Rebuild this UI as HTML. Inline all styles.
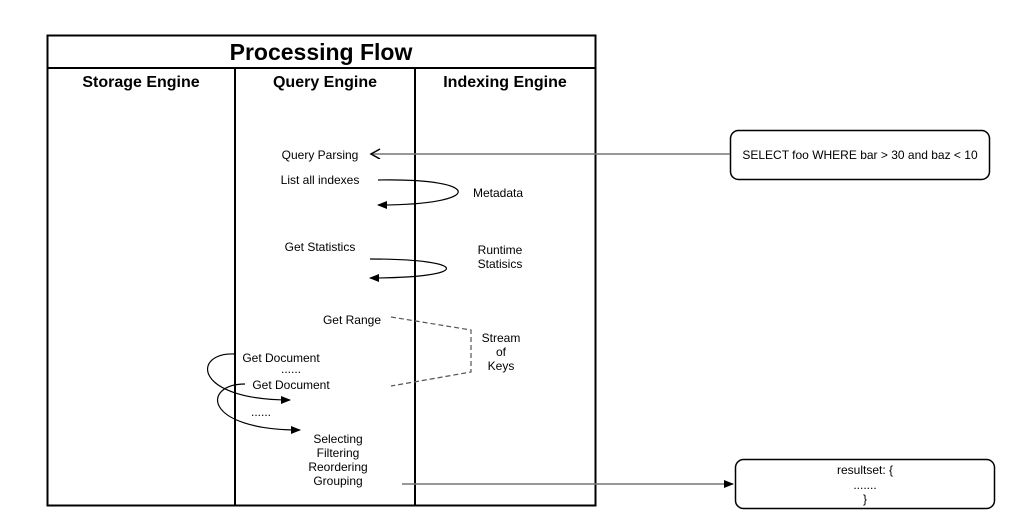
<!DOCTYPE html>
<html><head><style>body{margin:0;background:#fff}svg{display:block}text{font-family:"Liberation Sans",Arial,sans-serif}</style></head><body>
<svg width="1015" height="529" viewBox="0 0 1015 529">
<defs>
<marker id="f" markerWidth="10" markerHeight="8" refX="9" refY="4" orient="auto" markerUnits="userSpaceOnUse"><path d="M0,0 L10,4 L0,8 Z" fill="#000"/></marker>
<marker id="o" markerWidth="12" markerHeight="12" refX="10" refY="5" orient="auto" markerUnits="userSpaceOnUse"><path d="M1,0 L10,5 L1,10" fill="none" stroke="#000" stroke-width="1.5"/></marker>
</defs>
<rect x="47.5" y="35.5" width="548" height="470" fill="none" stroke="#000" stroke-width="2"/>
<line x1="47" y1="68" x2="596" y2="68" stroke="#000" stroke-width="2"/>
<line x1="235" y1="68" x2="235" y2="506" stroke="#000" stroke-width="2"/>
<line x1="415" y1="68" x2="415" y2="506" stroke="#000" stroke-width="2"/>
<text x="321" y="60" font-size="23" font-weight="bold" text-anchor="middle">Processing Flow</text>
<g font-size="16" font-weight="bold" text-anchor="middle">
<text x="141" y="87">Storage Engine</text>
<text x="325" y="87">Query Engine</text>
<text x="505" y="87">Indexing Engine</text>
</g>
<g font-size="12" text-anchor="middle">
<text x="320" y="159">Query Parsing</text>
<text x="320" y="184">List all indexes</text>
<text x="498" y="197">Metadata</text>
<text x="320" y="251">Get Statistics</text>
<text x="500" y="254">Runtime</text>
<text x="500" y="268">Statisics</text>
<text x="352" y="324">Get Range</text>
<text x="501" y="342">Stream</text>
<text x="501" y="356">of</text>
<text x="501" y="370">Keys</text>
<text x="281" y="362">Get Document</text>
<text x="291" y="373">......</text>
<text x="291" y="389">Get Document</text>
<text x="261" y="416">......</text>
<text x="338" y="443">Selecting</text>
<text x="338" y="457">Filtering</text>
<text x="338" y="471">Reordering</text>
<text x="338" y="485">Grouping</text>
</g>
<rect x="730.5" y="130.5" width="259" height="49" rx="8" fill="#fff" stroke="#000" stroke-width="1.5"/>
<text x="860" y="159" font-size="12" text-anchor="middle">SELECT foo WHERE bar &gt; 30 and baz &lt; 10</text>
<rect x="735.5" y="459.5" width="259" height="49" rx="8" fill="#fff" stroke="#000" stroke-width="1.5"/>
<g font-size="12" text-anchor="middle"><text x="865" y="474">resultset: {</text><text x="865" y="489">.......</text><text x="865" y="503">}</text></g>
<line x1="730" y1="154" x2="371" y2="154" stroke="#777" stroke-width="1.5" marker-end="url(#o)"/>
<path d="M378,180 C485,178 485,205 378,205" fill="none" stroke="#000" stroke-width="1.2" marker-end="url(#f)"/>
<path d="M370,259 C472,259 472,278 370,278" fill="none" stroke="#000" stroke-width="1.2" marker-end="url(#f)"/>
<path d="M391,317 L471,330 L471,372 L391,386" fill="none" stroke="#555" stroke-width="1.2" stroke-dasharray="5,3"/>
<path d="M235,354 C192,352 192,400 290,400" fill="none" stroke="#000" stroke-width="1.2" marker-end="url(#f)"/>
<path d="M245,384 C202,384 202,430 300,430" fill="none" stroke="#000" stroke-width="1.2" marker-end="url(#f)"/>
<line x1="402" y1="484" x2="733" y2="484" stroke="#777" stroke-width="1.5" marker-end="url(#f)"/>
</svg>
</body></html>
